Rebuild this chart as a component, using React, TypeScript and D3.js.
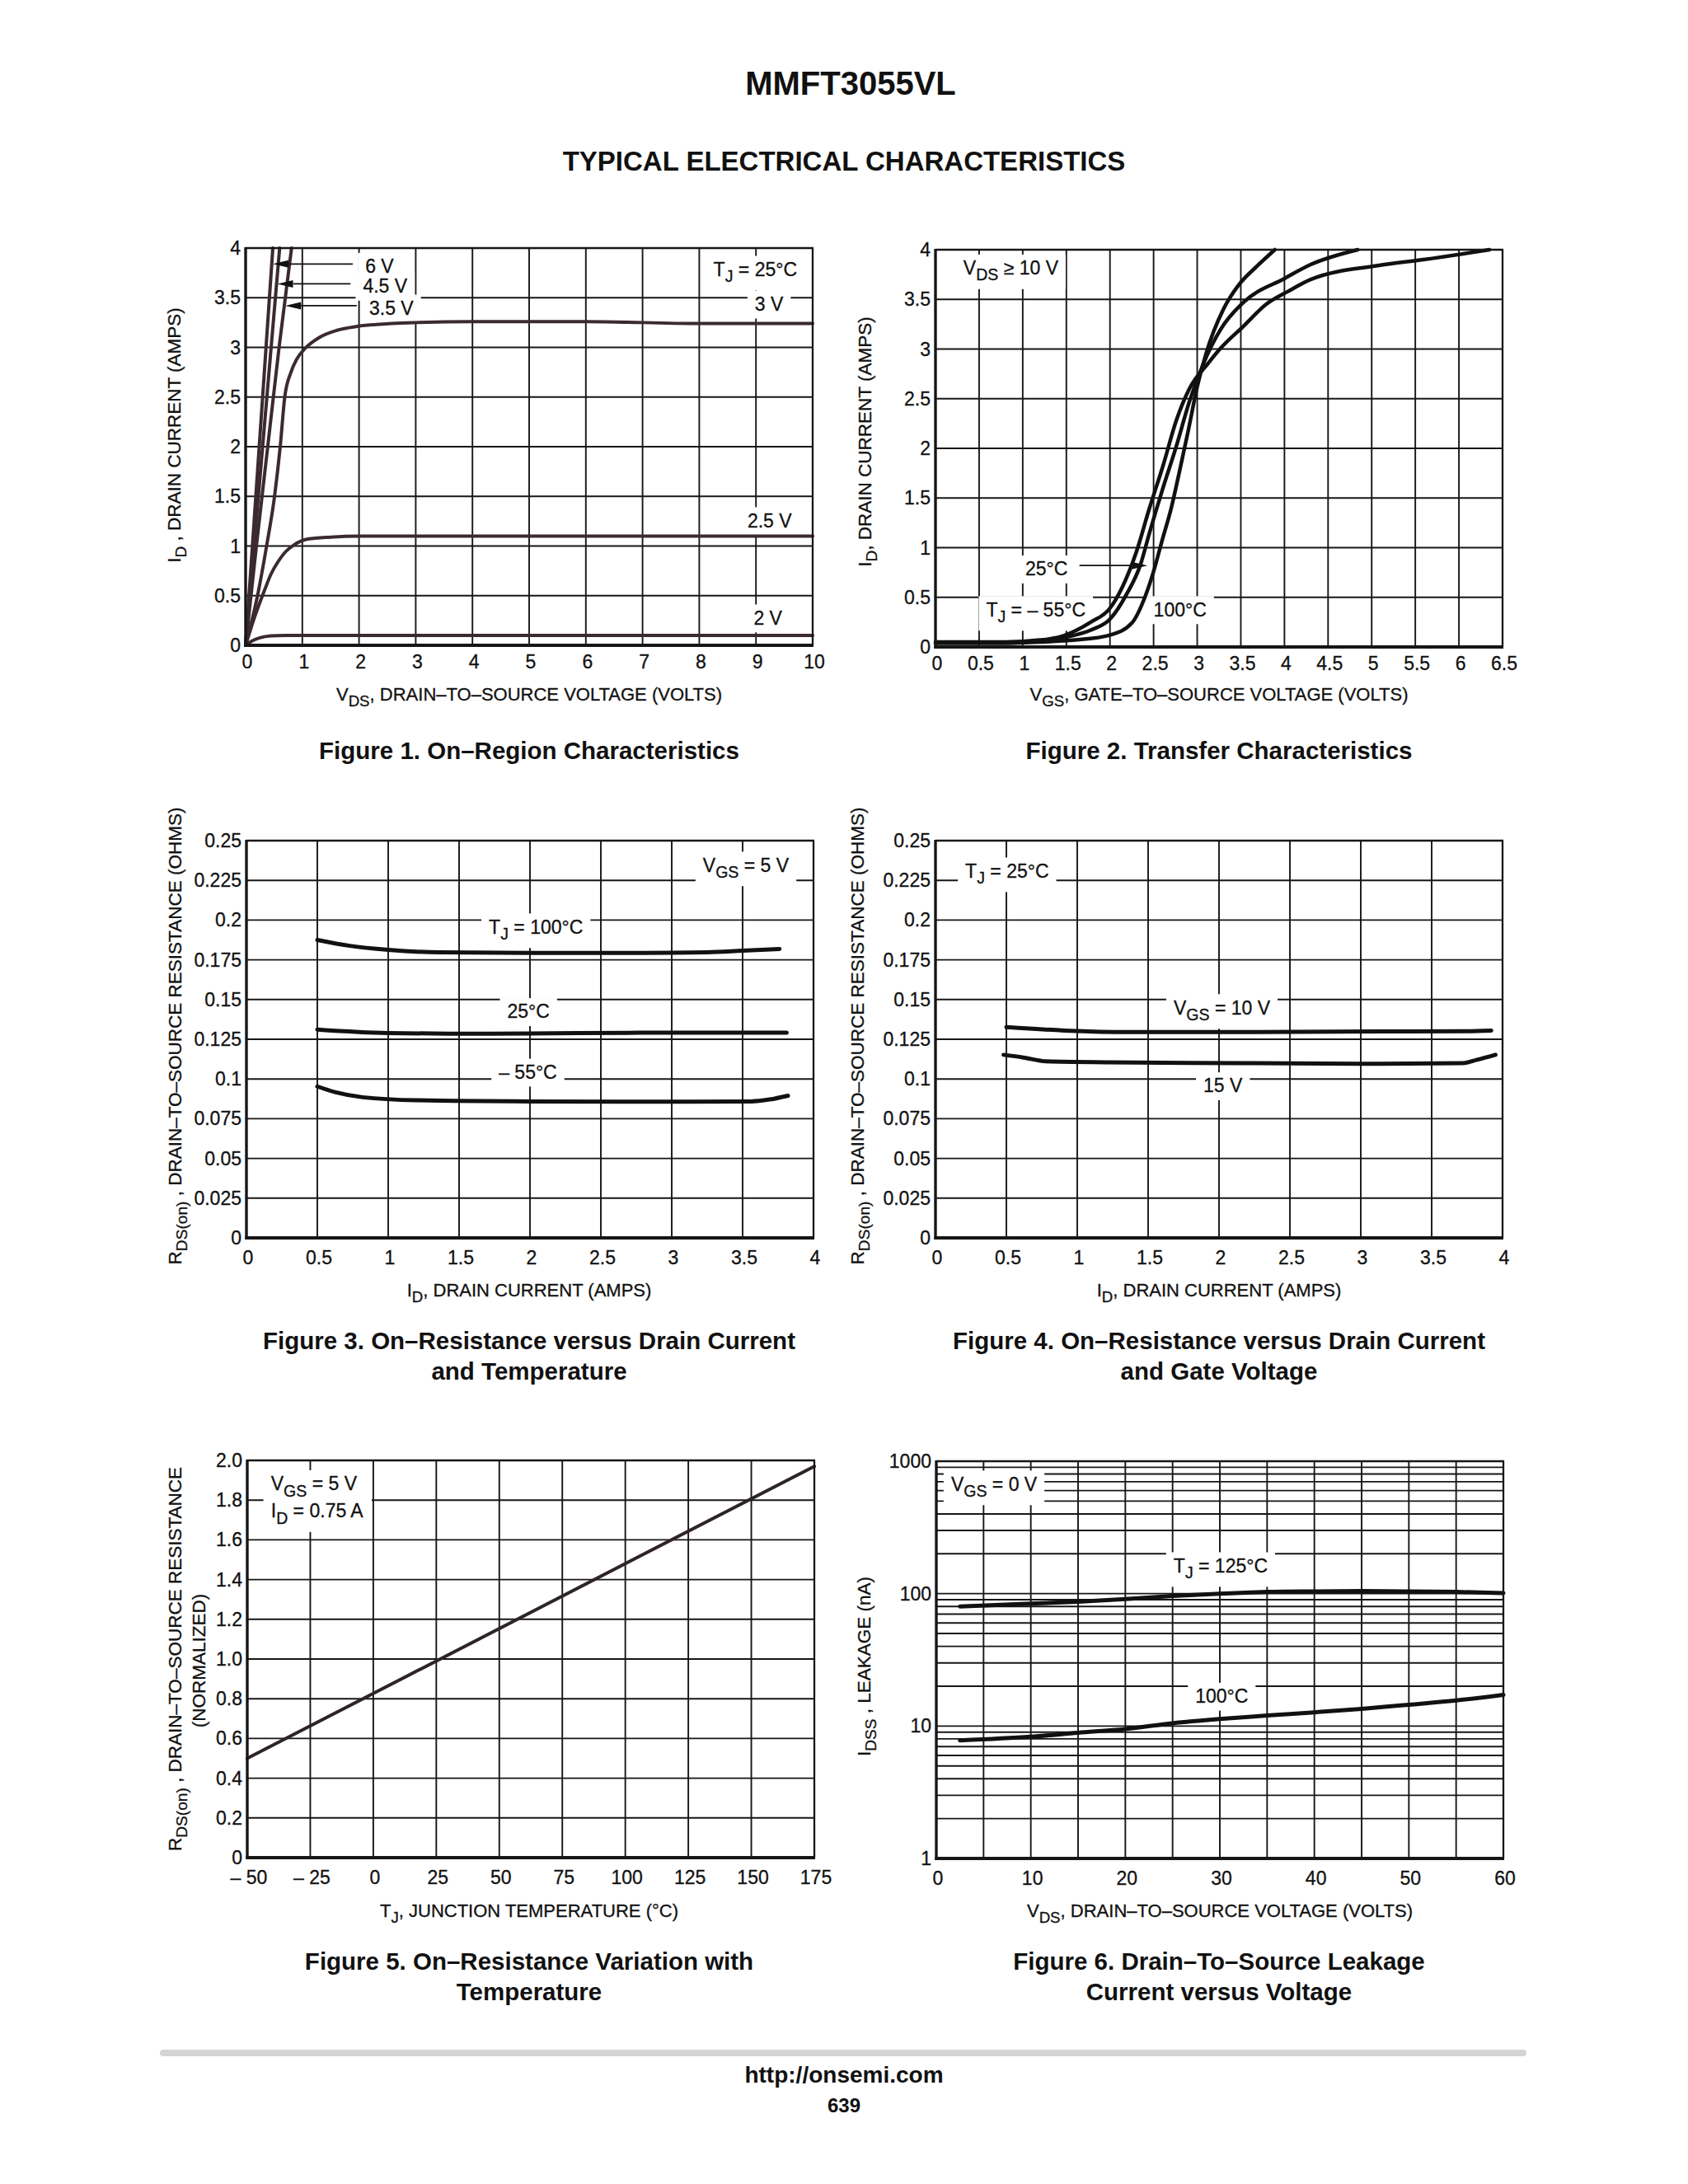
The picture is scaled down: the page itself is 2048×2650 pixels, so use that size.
import React from "react";
import * as d3 from "d3";

const FONT = "'Liberation Sans', Arial, Helvetica, sans-serif";
const INK = "#161616";
const W = 688;
const H = 482;

type Pt = [number, number];
type Part = [string, boolean]; // [text, is subscript]
interface Note { at: Pt; parts: Part[] }
interface Arrow { from: Pt; to: Pt }

// ---------- Figure 1: on-region characteristics (VDS, ID) ----------
const f1Vgs2: Pt[] = [[0, 0], [0.1, 0.04], [0.25, 0.075], [0.45, 0.095], [0.7, 0.1], [2, 0.1], [10, 0.1]];
const f1Vgs25: Pt[] = [[0, 0], [0.15, 0.27], [0.33, 0.55], [0.45, 0.72], [0.57, 0.84], [0.7, 0.94], [0.85, 1.01], [1.1, 1.07], [1.5, 1.09], [2, 1.1], [5, 1.1], [10, 1.1]];
const f1Vgs3: Pt[] = [[0, 0], [0.21, 0.5], [0.37, 1.0], [0.51, 1.5], [0.61, 2.0], [0.69, 2.5], [0.8, 2.75], [0.9, 2.88], [1.05, 2.99], [1.3, 3.1], [1.6, 3.17], [1.95, 3.21], [2.3, 3.23], [3, 3.25], [4, 3.26], [6, 3.26], [8, 3.24], [10, 3.24]];
const f1Vgs35: Pt[] = [[0, 0], [0.19, 1], [0.39, 2], [0.59, 3], [0.81, 4]];
const f1Vgs45: Pt[] = [[0, 0], [0.15, 1], [0.3, 2], [0.45, 3], [0.6, 4]];
const f1Vgs6: Pt[] = [[0, 0], [0.12, 1], [0.24, 2], [0.36, 3], [0.48, 4]];
const f1Notes: Note[] = [
  { at: [2.11, 3.75], parts: [["6 V", false]] },
  { at: [2.07, 3.55], parts: [["4.5 V", false]] },
  { at: [2.18, 3.33], parts: [["3.5 V", false]] },
  { at: [8.25, 3.72], parts: [["T", false], ["J", true], [" = 25°C", false]] },
  { at: [8.98, 3.37], parts: [["3 V", false]] },
  { at: [8.85, 1.19], parts: [["2.5 V", false]] },
  { at: [8.96, 0.21], parts: [["2 V", false]] },
];
const f1Arrows: Arrow[] = [
  { from: [1.89, 3.84], to: [0.48, 3.84] },
  { from: [1.85, 3.64], to: [0.56, 3.64] },
  { from: [1.96, 3.42], to: [0.7, 3.42] },
];
const f1XTicks = [0, 1, 2, 3, 4, 5, 6, 7, 8, 9, 10];
const f1YTicks = [0, 0.5, 1, 1.5, 2, 2.5, 3, 3.5, 4];

// ---------- Figure 2: transfer characteristics (VGS, ID) ----------
const f2Tm55: Pt[] = [[0, 0.04], [0.8, 0.04], [1.2, 0.05], [1.6, 0.07], [2.0, 0.12], [2.25, 0.24], [2.4, 0.5], [2.5, 0.76], [2.6, 1.08], [2.7, 1.39], [2.8, 1.78], [2.9, 2.19], [3.0, 2.62], [3.1, 2.95], [3.3, 3.4], [3.48, 3.65], [3.68, 3.83], [3.89, 4.0]];
const f2T25: Pt[] = [[0, 0.04], [0.8, 0.04], [1.2, 0.06], [1.5, 0.1], [1.78, 0.17], [2.0, 0.28], [2.19, 0.53], [2.35, 0.83], [2.45, 1.14], [2.6, 1.58], [2.76, 2.02], [2.91, 2.47], [3.07, 2.85], [3.27, 3.2], [3.53, 3.47], [4.0, 3.71], [4.3, 3.85], [4.84, 4.0]];
const f2T100: Pt[] = [[0, 0.05], [0.8, 0.05], [1.2, 0.07], [1.42, 0.1], [1.78, 0.25], [2.0, 0.39], [2.14, 0.6], [2.3, 0.95], [2.45, 1.39], [2.61, 1.83], [2.76, 2.28], [2.91, 2.6], [3.12, 2.85], [3.27, 3.01], [3.53, 3.23], [3.79, 3.45], [4.04, 3.58], [4.3, 3.7], [5.07, 3.84], [5.59, 3.9], [6.35, 4.0]];
const f2Notes: Note[] = [
  { at: [0.32, 3.75], parts: [["V", false], ["DS", true], [" ≥ 10 V", false]] },
  { at: [1.03, 0.72], parts: [["25°C", false]] },
  { at: [0.58, 0.31], parts: [["T", false], ["J", true], [" = – 55°C", false]] },
  { at: [2.5, 0.31], parts: [["100°C", false]] },
];
const f2Arrows: Arrow[] = [{ from: [1.65, 0.82], to: [2.43, 0.82] }];
const f2XTicks = [0, 0.5, 1, 1.5, 2, 2.5, 3, 3.5, 4, 4.5, 5, 5.5, 6, 6.5];
const f2YTicks = [0, 0.5, 1, 1.5, 2, 2.5, 3, 3.5, 4];

// ---------- Figure 3: RDS(on) vs ID and temperature ----------
const f3T100: Pt[] = [[0.5, 0.1875], [0.73, 0.1838], [1.0, 0.1813], [1.36, 0.1797], [2.0, 0.1793], [2.8, 0.1793], [3.25, 0.1797], [3.5, 0.1807], [3.76, 0.1818]];
const f3T25: Pt[] = [[0.5, 0.1311], [1.0, 0.1289], [1.5, 0.1285], [2.0, 0.1286], [2.8, 0.1291], [3.81, 0.1291]];
const f3Tm55: Pt[] = [[0.5, 0.0953], [0.63, 0.0916], [0.82, 0.0885], [1.2, 0.0866], [2.0, 0.0859], [3.1, 0.0857], [3.56, 0.0859], [3.69, 0.0871], [3.82, 0.0895]];
const f3Notes: Note[] = [
  { at: [3.22, 0.2305], parts: [["V", false], ["GS", true], [" = 5 V", false]] },
  { at: [1.71, 0.1916], parts: [["T", false], ["J", true], [" = 100°C", false]] },
  { at: [1.84, 0.1383], parts: [["25°C", false]] },
  { at: [1.78, 0.1002], parts: [["– 55°C", false]] },
];
const rdsTicks = [0, 0.025, 0.05, 0.075, 0.1, 0.125, 0.15, 0.175, 0.2, 0.225, 0.25];
const rdsTickLabels = ["0", "0.025", "0.05", "0.075", "0.1", "0.125", "0.15", "0.175", "0.2", "0.225", "0.25"];
const idTicks = [0, 0.5, 1, 1.5, 2, 2.5, 3, 3.5, 4];

// ---------- Figure 4: RDS(on) vs ID and gate voltage ----------
const f4Vgs10: Pt[] = [[0.5, 0.1326], [0.91, 0.1305], [1.38, 0.1295], [2.17, 0.1295], [3.12, 0.1299], [3.75, 0.1301], [3.92, 0.1305]];
const f4Vgs15: Pt[] = [[0.48, 0.1152], [0.62, 0.1135], [0.78, 0.1111], [1.22, 0.1105], [2.17, 0.11], [3.12, 0.1096], [3.72, 0.11], [3.82, 0.1121], [3.95, 0.1152]];
const f4Notes: Note[] = [
  { at: [0.21, 0.2268], parts: [["T", false], ["J", true], [" = 25°C", false]] },
  { at: [1.68, 0.1408], parts: [["V", false], ["GS", true], [" = 10 V", false]] },
  { at: [1.89, 0.0916], parts: [["15 V", false]] },
];

// ---------- Figure 5: normalized RDS(on) vs TJ ----------
const f5Line: Pt[] = [[-50, 0.5], [175, 1.97]];
const f5Notes: Note[] = [
  { at: [-40.6, 1.85], parts: [["V", false], ["GS", true], [" = 5 V", false]] },
  { at: [-40.6, 1.713], parts: [["I", false], ["D", true], [" = 0.75 A", false]] },
];
const f5XTicks = [-50, -25, 0, 25, 50, 75, 100, 125, 150, 175];
const f5XLabels = ["– 50", "– 25", "0", "25", "50", "75", "100", "125", "150", "175"];
const f5YTicks = [0, 0.2, 0.4, 0.6, 0.8, 1.0, 1.2, 1.4, 1.6, 1.8, 2.0];
const f5YLabels = ["0", "0.2", "0.4", "0.6", "0.8", "1.0", "1.2", "1.4", "1.6", "1.8", "2.0"];

// ---------- Figure 6: IDSS leakage vs VDS ----------
const f6T125: Pt[] = [[2.5, 80], [10, 84], [15, 87], [20, 91], [25, 96], [30, 100], [35, 103], [40, 104], [45, 104.5], [50, 104], [55, 103], [60, 101]];
const f6T100: Pt[] = [[2.5, 7.8], [10, 8.3], [15, 8.9], [20, 9.5], [25, 10.5], [30, 11.3], [35, 12], [40, 12.7], [45, 13.5], [50, 14.5], [55, 15.6], [60, 17.2]];
const f6Notes: Note[] = [
  { at: [1.56, 600], parts: [["V", false], ["GS", true], [" = 0 V", false]] },
  { at: [25.1, 145], parts: [["T", false], ["J", true], [" = 125°C", false]] },
  { at: [27.4, 15], parts: [["100°C", false]] },
];
const f6XTicks = [0, 10, 20, 30, 40, 50, 60];
const f6XGrid = [5, 10, 15, 20, 25, 30, 35, 40, 45, 50, 55];
const f6YTicks = [1, 10, 100, 1000];

// ---------- helpers ----------
let measureCtx: CanvasRenderingContext2D | null = null;
function textWidth(parts: Part[], size: number, weight = "normal") {
  if (!measureCtx) measureCtx = document.createElement("canvas").getContext("2d");
  let w = 0;
  for (const [t, sub] of parts) {
    measureCtx!.font = `${weight} ${sub ? size * 0.85 : size}px ${FONT}`;
    w += measureCtx!.measureText(t).width;
  }
  return w;
}

function rich(parts: Part[], size: number) {
  let shifted = false;
  return parts.map(([t, sub], i) => {
    let dy = 0;
    if (sub && !shifted) { dy = size * 0.32; shifted = true; }
    else if (!sub && shifted) { dy = -size * 0.32; shifted = false; }
    return (
      <tspan key={i} dy={dy || undefined} fontSize={sub ? size * 0.85 : size}>{t}</tspan>
    );
  });
}

const NOTE_SIZE = 23;
const TICK_SIZE = 23;
const TITLE_SIZE = 22.5;

function NoteMasks({ notes, x, y }: { notes: Note[]; x: any; y: any }) {
  return (
    <g>
      {notes.map((n, i) => {
        const px = x(n.at[0]);
        const py = y(n.at[1]);
        const w = textWidth(n.parts, NOTE_SIZE);
        const hasSub = n.parts.some(p => p[1]);
        const bottom = py + (hasSub ? NOTE_SIZE * 0.55 : NOTE_SIZE * 0.2) + 5;
        const topY = py - NOTE_SIZE * 0.75 - 7;
        return <rect key={i} x={px - 9} y={topY} width={w + 18} height={bottom - topY} fill="white" />;
      })}
    </g>
  );
}

function NoteTexts({ notes, x, y }: { notes: Note[]; x: any; y: any }) {
  return (
    <g fontFamily={FONT} fill="#111" stroke="#111" strokeWidth={0.3}>
      {notes.map((n, i) => (
        <text key={i} x={x(n.at[0])} y={y(n.at[1])} fontSize={NOTE_SIZE}>{rich(n.parts, NOTE_SIZE)}</text>
      ))}
    </g>
  );
}

function Arrows({ arrows, x, y }: { arrows: Arrow[]; x: any; y: any }) {
  return (
    <g>
      {arrows.map((a, i) => {
        const x1 = x(a.from[0]), y1 = y(a.from[1]);
        const x2 = x(a.to[0]), y2 = y(a.to[1]);
        const ang = Math.atan2(y2 - y1, x2 - x1);
        const len = 19, half = 4.5;
        const bx = x2 - len * Math.cos(ang), by = y2 - len * Math.sin(ang);
        const nx = -Math.sin(ang) * half, ny = Math.cos(ang) * half;
        return (
          <g key={i}>
            <line x1={x1} y1={y1} x2={bx} y2={by} stroke="#111" strokeWidth={1.7} />
            <path d={`M${x2},${y2}L${bx + nx},${by + ny}L${bx - nx},${by - ny}Z`} fill="#111" />
          </g>
        );
      })}
    </g>
  );
}

function Curves({ series, x, y, color, width }: { series: Pt[][]; x: any; y: any; color: string; width: number }) {
  const line = d3.line<Pt>().x(d => x(d[0])).y(d => y(d[1])).curve(d3.curveMonotoneX);
  return (
    <g fill="none" stroke={color} strokeWidth={width} strokeLinecap="round" strokeLinejoin="round">
      {series.map((s, i) => <path key={i} d={line(s) || ""} />)}
    </g>
  );
}

interface PanelProps {
  x: any; y: any;
  xGrid: number[]; yGrid: number[];
  xTicks: number[]; xLabels?: string[];
  yTicks: number[]; yLabels?: string[];
  xTickDy: number;
  children?: React.ReactNode;
}

function Panel({ x, y, xGrid, yGrid, xTicks, xLabels, yTicks, yLabels, xTickDy, children }: PanelProps) {
  const [l, r] = x.range();
  const [b, t] = y.range();
  return (
    <g>
      <g stroke={INK} strokeWidth={1.9}>
        {xGrid.map(v => <line key={"gx" + v} x1={x(v)} x2={x(v)} y1={b} y2={t} />)}
        {yGrid.map(v => <line key={"gy" + v} x1={l} x2={r} y1={y(v)} y2={y(v)} />)}
      </g>
      {children}
      <g stroke={INK}>
        <line x1={l} x2={r + 1} y1={t} y2={t} strokeWidth={2.3} />
        <line x1={r} x2={r} y1={t} y2={b} strokeWidth={2.3} />
        <line x1={l} x2={l} y1={t - 1} y2={b + 1.7} strokeWidth={3.4} />
        <line x1={l - 1.7} x2={r + 1} y1={b} y2={b} strokeWidth={3.8} />
      </g>
      <g fontFamily={FONT} fontSize={TICK_SIZE} fill="#111" stroke="#111" strokeWidth={0.3}>
        {xTicks.map((v, i) => (
          <text key={"xt" + i} x={x(v) + 2} y={b + xTickDy} textAnchor="middle">
            {xLabels ? xLabels[i] : String(v)}
          </text>
        ))}
        {yTicks.map((v, i) => (
          <text key={"yt" + i} x={l - 6} y={y(v) + 8} textAnchor="end">
            {yLabels ? yLabels[i] : String(v)}
          </text>
        ))}
      </g>
    </g>
  );
}

function XTitle({ cx, y, parts }: { cx: number; y: number; parts: Part[] }) {
  return (
    <text x={cx} y={y} textAnchor="middle" fontFamily={FONT} fontSize={22} fill="#111" stroke="#111" strokeWidth={0.3}>
      {rich(parts, 22)}
    </text>
  );
}

function YTitle({ x, cy, parts }: { x: number; cy: number; parts: Part[] }) {
  return (
    <text transform={`translate(${x},${cy}) rotate(-90)`} textAnchor="middle" fontFamily={FONT}
      fontSize={TITLE_SIZE} fill="#111" stroke="#111" strokeWidth={0.3}>
      {rich(parts, TITLE_SIZE)}
    </text>
  );
}

function Caption({ cx, y, lines }: { cx: number; y: number; lines: string[] }) {
  return (
    <g fontFamily={FONT} fontSize={29.5} fontWeight="bold" fill="#111" textAnchor="middle">
      {lines.map((s, i) => <text key={i} x={cx} y={y + i * 37}>{s}</text>)}
    </g>
  );
}

const range = (a: number, b: number, step: number) => d3.range(a, b + step / 2, step).map(v => +v.toFixed(4));

export default function App() {
  // layout of the six panels (page pixels)
  const p1 = { left: 298, top: 301 };
  const p2 = { left: 1135, top: 303 };
  const p3 = { left: 299, top: 1020 };
  const p4 = { left: 1135, top: 1020 };
  const p5 = { left: 300, top: 1772 };
  const p6 = { left: 1136, top: 1773 };

  const x1 = d3.scaleLinear([0, 10], [p1.left, p1.left + W]);
  const y1 = d3.scaleLinear([0, 4], [p1.top + H, p1.top]);
  const x2 = d3.scaleLinear([0, 6.5], [p2.left, p2.left + W]);
  const y2 = d3.scaleLinear([0, 4], [p2.top + H, p2.top]);
  const x3 = d3.scaleLinear([0, 4], [p3.left, p3.left + W]);
  const y3 = d3.scaleLinear([0, 0.25], [p3.top + H, p3.top]);
  const x4 = d3.scaleLinear([0, 4], [p4.left, p4.left + W]);
  const y4 = d3.scaleLinear([0, 0.25], [p4.top + H, p4.top]);
  const x5 = d3.scaleLinear([-50, 175], [p5.left, p5.left + W]);
  const y5 = d3.scaleLinear([0, 2], [p5.top + H, p5.top]);
  const x6 = d3.scaleLinear([0, 60], [p6.left, p6.left + W]);
  const y6 = d3.scaleLog([1, 1000], [p6.top + H, p6.top]);

  const logGrid: number[] = [];
  [1, 10, 100].forEach(d => { for (let k = 2; k <= 10; k++) logGrid.push(d * k); });

  const cx1 = p1.left + W / 2;
  const cx2 = p2.left + W / 2;

  return (
    <svg width={2048} height={2650} viewBox="0 0 2048 2650"
      style={{ position: "absolute", left: 0, top: 0, background: "white" }}>
      <rect x={0} y={0} width={2048} height={2650} fill="white" />

      {/* page header */}
      <g fontFamily={FONT} fontWeight="bold" fill="#111" textAnchor="middle">
        <text x={1032} y={115} fontSize={40}>MMFT3055VL</text>
        <text x={1024} y={207} fontSize={33}>TYPICAL ELECTRICAL CHARACTERISTICS</text>
      </g>

      {/* Figure 1 */}
      <Panel x={x1} y={y1} xGrid={range(1, 9, 1)} yGrid={range(0.5, 3.5, 0.5)}
        xTicks={f1XTicks} yTicks={f1YTicks} xTickDy={28}>
        <NoteMasks notes={f1Notes} x={x1} y={y1} />
        <Curves series={[f1Vgs2, f1Vgs25, f1Vgs3, f1Vgs35, f1Vgs45, f1Vgs6]} x={x1} y={y1} color="#3b2a30" width={4} />
        <Arrows arrows={f1Arrows} x={x1} y={y1} />
        <NoteTexts notes={f1Notes} x={x1} y={y1} />
      </Panel>
      <YTitle x={219} cy={528} parts={[["I", false], ["D", true], [" , DRAIN CURRENT (AMPS)", false]]} />
      <XTitle cx={cx1} y={850} parts={[["V", false], ["DS", true], [", DRAIN–TO–SOURCE VOLTAGE (VOLTS)", false]]} />
      <Caption cx={cx1} y={921} lines={["Figure 1. On–Region Characteristics"]} />

      {/* Figure 2 */}
      <Panel x={x2} y={y2} xGrid={range(0.5, 6, 0.5)} yGrid={range(0.5, 3.5, 0.5)}
        xTicks={f2XTicks} yTicks={f2YTicks} xTickDy={28}>
        <NoteMasks notes={f2Notes} x={x2} y={y2} />
        <Curves series={[f2Tm55, f2T25, f2T100]} x={x2} y={y2} color="#111" width={4.5} />
        <Arrows arrows={f2Arrows} x={x2} y={y2} />
        <NoteTexts notes={f2Notes} x={x2} y={y2} />
      </Panel>
      <YTitle x={1057} cy={536} parts={[["I", false], ["D", true], [", DRAIN CURRENT (AMPS)", false]]} />
      <XTitle cx={cx2} y={850} parts={[["V", false], ["GS", true], [", GATE–TO–SOURCE VOLTAGE (VOLTS)", false]]} />
      <Caption cx={cx2} y={921} lines={["Figure 2. Transfer Characteristics"]} />

      {/* Figure 3 */}
      <Panel x={x3} y={y3} xGrid={range(0.5, 3.5, 0.5)} yGrid={range(0.025, 0.225, 0.025)}
        xTicks={idTicks} yTicks={rdsTicks} yLabels={rdsTickLabels} xTickDy={32}>
        <NoteMasks notes={f3Notes} x={x3} y={y3} />
        <Curves series={[f3T100, f3T25, f3Tm55]} x={x3} y={y3} color="#111" width={5} />
        <NoteTexts notes={f3Notes} x={x3} y={y3} />
      </Panel>
      <YTitle x={220} cy={1257} parts={[["R", false], ["DS(on)", true], [" , DRAIN–TO–SOURCE RESISTANCE (OHMS)", false]]} />
      <XTitle cx={cx1} y={1573} parts={[["I", false], ["D", true], [", DRAIN CURRENT (AMPS)", false]]} />
      <Caption cx={cx1} y={1637} lines={["Figure 3. On–Resistance versus Drain Current", "and Temperature"]} />

      {/* Figure 4 */}
      <Panel x={x4} y={y4} xGrid={range(0.5, 3.5, 0.5)} yGrid={range(0.025, 0.225, 0.025)}
        xTicks={idTicks} yTicks={rdsTicks} yLabels={rdsTickLabels} xTickDy={32}>
        <NoteMasks notes={f4Notes} x={x4} y={y4} />
        <Curves series={[f4Vgs10, f4Vgs15]} x={x4} y={y4} color="#111" width={5} />
        <NoteTexts notes={f4Notes} x={x4} y={y4} />
      </Panel>
      <YTitle x={1048} cy={1257} parts={[["R", false], ["DS(on)", true], [" , DRAIN–TO–SOURCE RESISTANCE (OHMS)", false]]} />
      <XTitle cx={cx2} y={1573} parts={[["I", false], ["D", true], [", DRAIN CURRENT (AMPS)", false]]} />
      <Caption cx={cx2} y={1637} lines={["Figure 4. On–Resistance versus Drain Current", "and Gate Voltage"]} />

      {/* Figure 5 */}
      <Panel x={x5} y={y5} xGrid={range(-25, 150, 25)} yGrid={range(0.2, 1.8, 0.2)}
        xTicks={f5XTicks} xLabels={f5XLabels} yTicks={f5YTicks} yLabels={f5YLabels} xTickDy={32}>
        <NoteMasks notes={f5Notes} x={x5} y={y5} />
        <Curves series={[f5Line]} x={x5} y={y5} color="#2e2428" width={4} />
        <NoteTexts notes={f5Notes} x={x5} y={y5} />
      </Panel>
      <YTitle x={220} cy={2013} parts={[["R", false], ["DS(on)", true], [" , DRAIN–TO–SOURCE RESISTANCE", false]]} />
      <YTitle x={249} cy={2015} parts={[["(NORMALIZED)", false]]} />
      <XTitle cx={cx1} y={2326} parts={[["T", false], ["J", true], [", JUNCTION TEMPERATURE (°C)", false]]} />
      <Caption cx={cx1} y={2390} lines={["Figure 5. On–Resistance Variation with", "Temperature"]} />

      {/* Figure 6 */}
      <Panel x={x6} y={y6} xGrid={f6XGrid} yGrid={logGrid.filter(v => v < 1000)}
        xTicks={f6XTicks} yTicks={f6YTicks} xTickDy={32}>
        <NoteMasks notes={f6Notes} x={x6} y={y6} />
        <Curves series={[f6T125, f6T100]} x={x6} y={y6} color="#111" width={5} />
        <NoteTexts notes={f6Notes} x={x6} y={y6} />
      </Panel>
      <YTitle x={1056} cy={2022} parts={[["I", false], ["DSS", true], [" , LEAKAGE (nA)", false]]} />
      <XTitle cx={cx2 + 1} y={2326} parts={[["V", false], ["DS", true], [", DRAIN–TO–SOURCE VOLTAGE (VOLTS)", false]]} />
      <Caption cx={cx2} y={2390} lines={["Figure 6. Drain–To–Source Leakage", "Current versus Voltage"]} />

      {/* footer */}
      <line x1={198} x2={1848} y1={2491} y2={2491} stroke="#d4d4d7" strokeWidth={8} strokeLinecap="round" />
      <g fontFamily={FONT} fontWeight="bold" fill="#111" textAnchor="middle">
        <text x={1024} y={2527} fontSize={28}>http://onsemi.com</text>
        <text x={1024} y={2563} fontSize={24}>639</text>
      </g>
    </svg>
  );
}
